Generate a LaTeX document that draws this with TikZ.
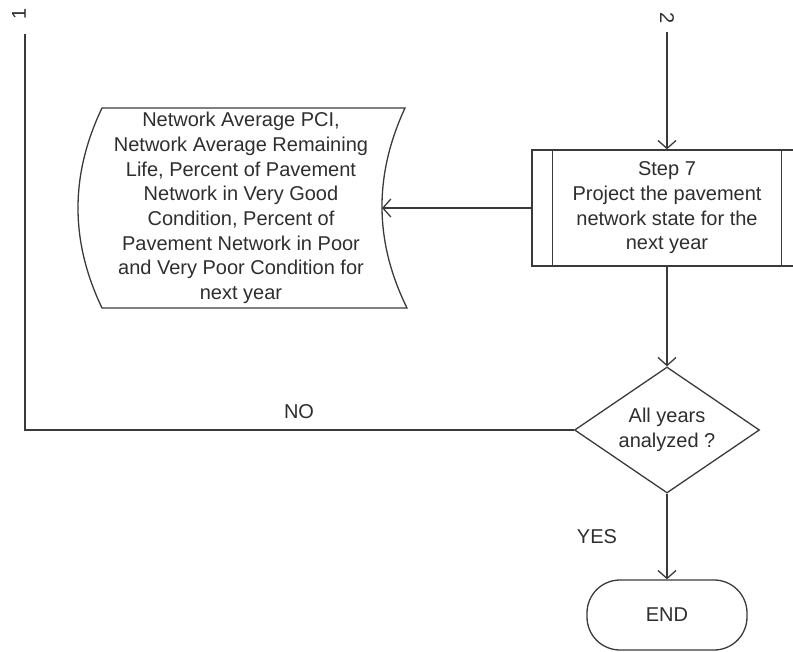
\documentclass[tikz,border=0pt]{standalone}
\usepackage{fontspec}
\setmainfont{Liberation Sans}
\usetikzlibrary{shapes.geometric,arrows.meta}
\definecolor{ink}{HTML}{3A3A3A}
\definecolor{txt}{HTML}{2E2E2E}
\begin{document}
\begin{tikzpicture}[x=1pt,y=-1pt,
  line/.style={draw=ink,line width=1.3pt},
  arr/.style={line,-{Straight Barb[length=8pt,width=18pt,line width=1.3pt]}},
  lbl/.style={text=txt,font=\fontsize{20}{24.7}\selectfont,inner sep=0pt,align=center},
  procbox/.style={line,rectangle,minimum width=270pt,minimum height=116pt,inner sep=0pt},
  decision/.style={line,diamond,minimum width=185pt,minimum height=126pt,inner sep=0pt,aspect=1.47},
  terminal/.style={line,rectangle,rounded corners=33pt,minimum width=160pt,minimum height=70pt,inner sep=0pt}]
\useasboundingbox (0,0) rectangle (793,652);
\clip (0,0) rectangle (793,652);

% off-page connector ends
\coordinate (c1) at (25,34);
\coordinate (c2) at (667,32);
\node[lbl,rotate=90] (n1) at (19,14) {1};
\node[lbl,rotate=-90] (n2) at (667,18) {2};

% Step 7 (predefined process)
\node[procbox] (step7) at (667,208) {};
\draw[line] ([xshift=21pt]step7.north west) -- ([xshift=21pt]step7.south west);
\draw[line] ([xshift=-21pt]step7.north east) -- ([xshift=-21pt]step7.south east);
\node[lbl] (step7t) at (667,208) {Step 7\\Project the pavement\\network state for the\\next year};

% stored data output
\draw[line] (102,108) -- (405,108)
  .. controls (374,175) and (374,241) .. (407,308)
  -- (102,308)
  .. controls (70,241) and (70,175) .. (102,108) -- cycle;
\coordinate (datain) at (382,208);
\node[lbl] (data) at (241,208) {Network Average PCI,\\Network Average Remaining\\Life, Percent of Pavement\\Network in Very Good\\Condition, Percent of\\Pavement Network in Poor\\and Very Poor Condition for\\next year};

% decision
\node[decision] (dec) at (667,430) {};
\node[lbl] (dect) at (667,430) {All years\\analyzed ?};

% terminal
\node[terminal] (end) at (667,615) {};
\node[lbl] (endt) at (667,615) {END};

% connectors
\draw[arr] (c2) -- (step7.north);
\draw[arr] (step7.west) -- (datain);
\draw[arr] (step7.south) -- (dec.north);
\draw[arr] (dec.south) -- (end.north);
\draw[line] (dec.west) -| (c1);
\node[lbl] (no) at (299,412) {NO};
\node[lbl] (yes) at (597,537) {YES};
\end{tikzpicture}
\end{document}
